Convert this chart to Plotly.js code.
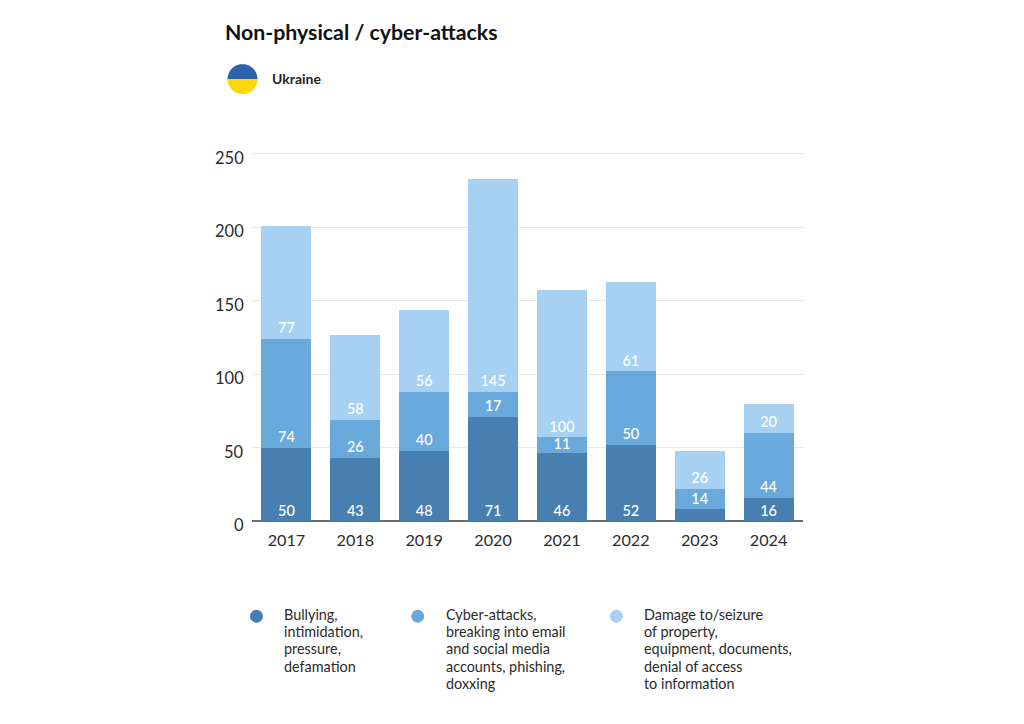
<!DOCTYPE html>
<html><head><meta charset="utf-8">
<script src="https://cdn.plot.ly/plotly-3.0.1.min.js"></script>
<style>html,body{margin:0;padding:0;background:#fff}</style></head>
<body><div id="chart" style="width:1024px;height:724px"></div>
<script>
const years = ['2017','2018','2019','2020','2021','2022','2023','2024'];
const bullying = [50,43,48,71,46,52,8,16];
const cyber = [74,26,40,17,11,50,14,44];
const damage = [77,58,56,145,100,61,26,20];
const bullyingLabels = ['50','43','48','71','46','52','','16'];
const cyberLabels = ['74','26','40','17','11','50','14','44'];
const damageLabels = ['77','58','56','145','100','61','26','20'];
const yTicks = [0,50,100,150,200,250];
const colors = ['#477fb1','#6aa9dc','#a6d1f2'];
const legendTexts = [['Bullying,','intimidation,','pressure,','defamation'],
 ['Cyber-attacks,','breaking into email','and social media','accounts, phishing,','doxxing'],
 ['Damage to/seizure','of property,','equipment, documents,','denial of access','to information']];
const FONT = 'Lato, sans-serif';
const W=1024,H=724,L=251.5,R=803.5,B=521.5,SCALE=1.472,YMAX=252,T=B-YMAX*SCALE;
const px = x => (x-L)/(R-L), py = y => (B-y)/(B-T);
function trace(name,vals,c){return {type:'bar',name,x:years,y:vals,marker:{color:c,line:{width:0}},hoverinfo:'y+name'};}
// value labels sit about 10px above each segment's base, centred when the segment is short
function labelTrace(vals,bases,labels){return {type:'scatter',mode:'text',x:years,
  y:vals.map((v,i)=>bases[i]+Math.min(6.2,v/2)),text:labels,textposition:'middle center',cliponaxis:false,
  textfont:{family:FONT,size:14.5,color:'#ffffff',weight:500},hoverinfo:'skip',showlegend:false};}
const zeros=years.map(()=>0);
const base2=bullying.slice();
const base3=bullying.map((v,i)=>v+cyber[i]);
const data=[trace('Bullying, intimidation, pressure, defamation',bullying,colors[0]),
 trace('Cyber-attacks',cyber,colors[1]),
 trace('Damage to/seizure',damage,colors[2]),
 labelTrace(bullying,zeros,bullyingLabels),
 labelTrace(cyber,base2,cyberLabels),
 labelTrace(damage,base3,damageLabels)];
const shapes=[], annotations=[];
function circle(cx,cy,r,c){shapes.push({type:'circle',xref:'paper',yref:'paper',x0:px(cx-r),x1:px(cx+r),y0:py(cy+r),y1:py(cy-r),fillcolor:c,line:{width:0}});}
[[256,colors[0],283],[417.5,colors[1],445],[616.5,colors[2],643.5]].forEach((d,i)=>{
  circle(d[0],617,6.5,d[1]);
  legendTexts[i].forEach((line,j)=>{
    annotations.push({xref:'paper',yref:'paper',x:px(d[2]),y:py(615+j*17.4),xanchor:'left',yanchor:'middle',align:'left',showarrow:false,
      borderpad:0,text:line,font:{family:FONT,size:14.4,color:'#2b2b2b'}});
  });
});
// y tick labels sit slightly below their gridlines in the reference
yTicks.forEach(v=>annotations.push({xref:'paper',yref:'y',x:px(244.5),y:v,yshift:-4,xanchor:'right',yanchor:'middle',showarrow:false,borderpad:0,
  text:String(v),font:{family:FONT,size:16.5,color:'#2b2b2b'}}));
annotations.push({xref:'paper',yref:'paper',x:px(223.5),y:py(31.5),xanchor:'left',yanchor:'middle',showarrow:false,borderpad:0,
  text:'<b>Non-physical / cyber-attacks</b>',font:{family:FONT,size:21.3,color:'#111111'}});
annotations.push({xref:'paper',yref:'paper',x:px(271),y:py(77.5),xanchor:'left',yanchor:'middle',showarrow:false,borderpad:0,
  text:'<b>Ukraine</b>',font:{family:FONT,size:14,color:'#222222'}});
// flag: two half discs
const fx=242,fy=78.5,fr=15;
function half(top,c){const n=40;let p='';for(let i=0;i<=n;i++){const a=Math.PI*i/n;const xx=fx-fr*Math.cos(a);const yy=top?fy-fr*Math.sin(a):fy+fr*Math.sin(a);
  p+=(i?'L':'M')+px(xx)+','+py(yy);}p+='Z';shapes.push({type:'path',xref:'paper',yref:'paper',path:p,fillcolor:c,line:{width:0}});}
half(true,'#2d62ae');half(false,'#fdd60c');
const layout={width:W,height:H,margin:{l:L,r:W-R,t:T,b:H-B,pad:0},paper_bgcolor:'#fff',plot_bgcolor:'#fff',
  barmode:'stack',bargap:0.275,showlegend:false,
  xaxis:{type:'category',tickfont:{family:FONT,size:16.2,color:'#2b2b2b'},ticks:'',showgrid:false,showline:false,zeroline:false,ticklabelstandoff:8},
  yaxis:{range:[0,YMAX],tickvals:yTicks,showticklabels:false,ticks:'',
    gridcolor:'#e8e8e8',gridwidth:1,zeroline:true,zerolinecolor:'#6f6a68',zerolinewidth:1.5,showline:false},
  shapes,annotations,font:{family:FONT}};
Plotly.newPlot('chart',data,layout,{displayModeBar:false,staticPlot:true});
</script></body></html>
